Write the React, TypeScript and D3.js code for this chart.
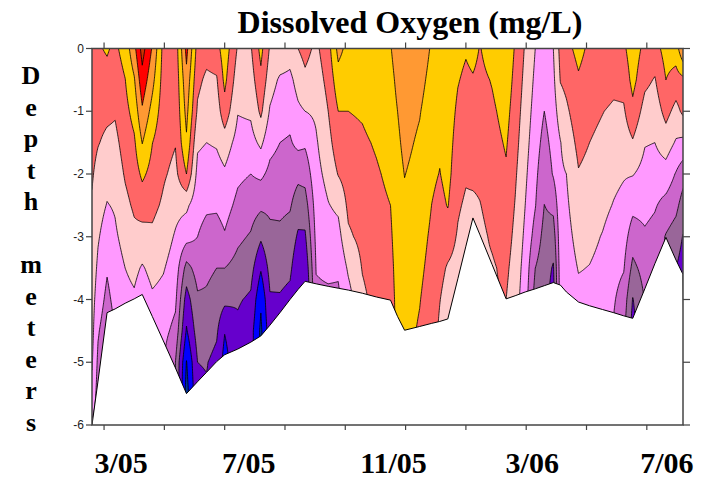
import React, { useEffect, useRef } from 'react';
import * as d3 from 'd3';

// sampling dates, days after the first profile
const sampleDays = [
  0, 6, 15, 23, 33, 42, 50, 60, 71, 83, 94, 105, 114, 124, 132, 145, 158, 168, 177, 187,
  197, 205, 212, 223, 235, 245, 255, 269, 283, 297, 304, 311, 326, 338, 346, 354, 364, 372, 379, 386,
  398, 412, 421, 431, 441, 450, 459, 466, 472, 484, 495, 508, 519, 529, 538, 550, 560, 571, 581, 588,
];

// lake bottom at each sample (m)
const bottomDepths = [
  6.0, 5.3, 4.21, 4.15, 4.06, 3.99, 3.92, 4.27, 4.66, 5.09, 5.5, 5.31, 5.16, 4.99, 4.88, 4.79, 4.68, 4.58, 4.41, 4.21,
  4.0, 3.84, 3.71, 3.75, 3.79, 3.82, 3.85, 3.9, 3.96, 4.01, 4.27, 4.49, 4.43, 4.38, 4.35, 4.31, 3.67, 3.15, 2.7, 2.97,
  3.44, 3.99, 3.94, 3.88, 3.83, 3.78, 3.73, 3.77, 3.88, 4.04, 4.1, 4.16, 4.21, 4.26, 4.3, 3.83, 3.43, 3.01, 3.37, 3.6,
];

// DO (mg/L) readings every 0.5 m from the surface down
const depthStep = 0.5;
const doProfiles: number[][] = [
  [7.8, 7.6, 7.5, 7.3, 7.1, 6.9, 6.8, 6.6, 6.4, 6.3, 6.1, 5.7, 4.8],
  [7.9, 7.6, 7.3, 7.05, 6.7, 6.4, 6.1, 5.8, 5.5, 5.1, 4.8, 4.6],
  [8.1, 7.7, 7.2, 6.8, 6.35, 5.95, 5.5, 5.1, 4.75, 4.4],
  [7.8, 7.45, 7.1, 6.75, 6.45, 6.1, 5.85, 5.55, 5.3, 5.0],
  [8.4, 7.98, 7.7, 7.4, 7.1, 6.75, 6.35, 6.0, 5.7],
  [9.7, 8.9, 8.35, 7.85, 7.5, 7.15, 6.75, 6.25, 5.85],
  [11.4, 10.65, 9.85, 9.03, 8.2, 7.4, 6.65, 5.9, 5.4],
  [9.9, 9.3, 8.65, 8.02, 7.65, 7.25, 6.8, 6.3, 5.85, 5.5],
  [7.7, 7.6, 7.5, 7.35, 7.12, 6.85, 6.45, 6.07, 5.7, 5.3, 5.0],
  [7.4, 7.3, 7.2, 7.05, 6.75, 6.3, 5.9, 5.55, 5.2, 4.7, 4.0],
  [10.3, 9.7, 9.3, 8.85, 8.0, 6.2, 5.35, 3.65, 2.55, 1.9, 0.95, 0.6],
  [7.6, 7.25, 6.85, 6.15, 5.7, 5.35, 5.0, 4.4, 3.85, 3.45, 3.0, 2.8],
  [7.4, 6.8, 6.4, 6.0, 5.55, 5.15, 4.65, 4.2, 3.85, 3.5, 3.05, 2.9],
  [7.6, 6.9, 6.5, 6.1, 5.6, 5.15, 4.55, 4.0, 3.6, 3.15, 2.7],
  [8.6, 8.25, 7.6, 6.5, 5.85, 5.4, 4.9, 4.0, 3.25, 2.05, 1.6],
  [6.9, 6.45, 6.05, 5.65, 5.2, 4.75, 4.2, 3.65, 3.1, 2.8],
  [6.9, 6.55, 6.15, 5.65, 5.0, 4.45, 3.9, 3.35, 2.85, 2.4],
  [8.3, 7.75, 7.2, 6.2, 5.2, 4.2, 3.15, 2.1, 1.15, 0.8],
  [6.9, 6.45, 5.9, 5.3, 4.75, 4.2, 3.75, 3.3, 2.9, 2.6],
  [6.8, 5.85, 5.4, 5.0, 4.6, 4.2, 3.8, 3.35, 2.9, 2.6],
  [6.5, 5.75, 5.3, 4.9, 4.5, 4.1, 3.6, 3.2, 2.7],
  [7.0, 6.4, 5.8, 5.25, 4.25, 3.5, 2.85, 2.25, 1.95],
  [7.3, 6.8, 6.0, 5.15, 4.35, 3.55, 2.85, 2.2, 1.8],
  [6.8, 6.5, 6.15, 5.9, 5.7, 5.45, 5.25, 5.05, 4.8],
  [7.6, 7.3, 7.0, 6.65, 6.3, 5.95, 5.55, 5.2, 4.8],
  [9.3, 8.6, 8.0, 7.6, 7.05, 6.2, 5.65, 5.15, 4.8],
  [8.7, 8.35, 8.0, 7.7, 7.45, 7.2, 6.85, 6.15, 5.6],
  [8.8, 8.5, 8.1, 7.85, 7.65, 7.45, 7.25, 7.05, 6.8],
  [8.9, 8.65, 8.4, 8.1, 7.9, 7.75, 7.6, 7.45, 7.3],
  [8.95, 8.75, 8.6, 8.4, 8.2, 8.0, 7.85, 7.7, 7.6],
  [9.4, 9.2, 9.0, 8.85, 8.7, 8.6, 8.5, 8.4, 8.3, 8.2],
  [9.7, 9.5, 9.35, 9.2, 9.02, 8.85, 8.7, 8.55, 8.4, 8.3],
  [9.5, 9.27, 9.05, 8.87, 8.72, 8.57, 8.36, 8.2, 8.04, 7.9],
  [8.9, 8.72, 8.54, 8.36, 8.18, 7.99, 7.83, 7.68, 7.52, 7.4],
  [8.8, 8.64, 8.48, 8.14, 7.97, 7.73, 7.5, 7.27, 7.03, 6.85],
  [8.7, 8.6, 8.5, 8.4, 8.3, 8.05, 7.45, 6.9, 6.6, 6.4],
  [8.3, 8.06, 7.82, 7.6, 7.37, 7.12, 6.9, 6.7, 6.6],
  [8.1, 7.81, 7.53, 7.34, 7.11, 6.86, 6.6, 6.5],
  [8.3, 7.92, 7.67, 7.42, 7.17, 6.85, 6.7],
  [7.95, 7.75, 7.56, 7.37, 7.18, 6.97, 6.8],
  [8.5, 8.06, 7.84, 7.66, 7.48, 7.3, 7.11, 6.9],
  [8.8, 8.57, 8.33, 8.1, 7.88, 7.66, 7.44, 7.2, 7.0],
  [7.9, 7.71, 7.52, 7.34, 7.14, 6.95, 6.76, 6.57, 6.4],
  [6.9, 6.72, 6.54, 6.36, 6.18, 6.0, 5.8, 5.6, 5.45],
  [6.0, 5.81, 5.62, 5.43, 5.24, 5.05, 4.6, 4.0, 3.6],
  [5.8, 5.4, 5.0, 4.67, 4.32, 3.99, 3.67, 3.45, 3.3],
  [6.0, 5.78, 5.55, 5.32, 5.09, 4.25, 3.5, 2.9, 2.6],
  [7.3, 7.05, 6.5, 5.96, 5.84, 5.72, 5.6, 5.48, 5.4],
  [7.7, 7.26, 6.83, 6.42, 6.0, 5.83, 5.65, 5.47, 5.3],
  [8.3, 7.88, 7.56, 7.25, 6.94, 6.64, 6.35, 6.05, 5.75],
  [7.8, 7.53, 7.27, 7.0, 6.75, 6.5, 6.23, 5.97, 5.75],
  [7.8, 7.5, 7.03, 6.75, 6.5, 6.24, 5.95, 5.75, 5.55],
  [7.8, 7.3, 6.83, 6.54, 6.24, 5.95, 5.59, 5.34, 5.1, 4.9],
  [7.8, 7.33, 6.88, 6.48, 6.08, 5.73, 5.4, 5.07, 4.55, 4.2],
  [8.6, 8.32, 7.72, 6.9, 6.05, 5.27, 4.5, 3.74, 2.95, 2.6],
  [7.7, 7.24, 6.62, 6.06, 5.67, 5.28, 4.86, 4.38, 4.05],
  [7.6, 6.93, 6.46, 6.0, 5.55, 5.09, 4.67, 4.3],
  [8.4, 8.0, 7.32, 6.49, 5.58, 4.67, 3.92],
  [8.5, 7.6, 6.69, 5.9, 4.93, 4.27, 3.5, 3.0],
  [9.9, 7.75, 7.2, 5.75, 4.4, 3.55, 2.95, 2.6],
];

const doLevels = [1, 2, 3, 4, 5, 6, 7, 8, 9, 10, 11];
const bandColors = [
  '#003399', '#0000ff', '#6600cc', '#996699', '#cc66cc', '#ff99ff',
  '#ffcccc', '#ff6666', '#ffcc00', '#ff9933', '#ff0000', '#cc3300',
];

const xTickDays = [12, 72, 132, 192, 252, 312, 372, 432, 492, 552];
const xLabelText = ['3/05', '7/05', '11/05', '3/06', '7/06'];
const xLabelDays = [29, 156, 300, 438, 572];
const depthTicks = [0, -1, -2, -3, -4, -5, -6];
const yTitleLetters = ['D', 'e', 'p', 't', 'h', '', 'm', 'e', 't', 'e', 'r', 's'];

const W = 706;
const H = 480;
const plot = { left: 92, top: 48.5, right: 683, bottom: 425 };
const serif = '"Liberation Serif", "Times New Roman", serif';
const sans = '"Liberation Sans", Arial, sans-serif';

// DO at a depth, linear between readings, last reading held below
const readAt = (p: number[], z: number) => {
  const pos = z / depthStep;
  const i0 = Math.floor(pos);
  if (i0 >= p.length - 1) return p[p.length - 1];
  const f = pos - i0;
  return p[i0] * (1 - f) + p[i0 + 1] * f;
};

const App = () => {
  const svgRef = useRef<SVGSVGElement>(null);

  useEffect(() => {
    const svg = d3.select(svgRef.current);
    svg.selectAll('*').remove();

    const lastDay = sampleDays[sampleDays.length - 1];
    const x = d3.scaleLinear().domain([0, lastDay]).range([plot.left, plot.right]);
    const y = d3.scaleLinear().domain([-6, 0]).range([plot.bottom, plot.top]);

    // raster of DO for the contour generator
    const nx = lastDay + 1;
    const ny = 241;
    const dz = 6 / (ny - 1);
    const grid = new Array(nx * ny);
    let k = 0;
    for (let i = 0; i < nx; i++) {
      while (k < sampleDays.length - 2 && sampleDays[k + 1] < i) k++;
      const t = (i - sampleDays[k]) / (sampleDays[k + 1] - sampleDays[k]);
      for (let j = 0; j < ny; j++) {
        const z = j * dz;
        grid[j * nx + i] = readAt(doProfiles[k], z) * (1 - t) + readAt(doProfiles[k + 1], z) * t;
      }
    }

    const bands = d3.contours().size([nx, ny]).thresholds(doLevels)(grid);
    const proj = d3.geoTransform({
      point: function (gx: number, gy: number) {
        this.stream.point(x(gx - 0.5), y(-(gy - 0.5) * dz));
      },
    });
    const path = d3.geoPath(proj);

    svg.append('defs').append('clipPath').attr('id', 'plotClip')
      .append('rect')
      .attr('x', plot.left).attr('y', plot.top)
      .attr('width', plot.right - plot.left).attr('height', plot.bottom - plot.top);

    const g = svg.append('g').attr('clip-path', 'url(#plotClip)');

    g.append('rect')
      .attr('x', plot.left).attr('y', plot.top)
      .attr('width', plot.right - plot.left).attr('height', plot.bottom - plot.top)
      .attr('fill', bandColors[0]);

    g.selectAll('path.band')
      .data(bands)
      .join('path')
      .attr('class', 'band')
      .attr('d', (d: any) => path(d))
      .attr('fill', (d: any) => bandColors[doLevels.indexOf(d.value) + 1])
      .attr('stroke', '#000')
      .attr('stroke-width', 0.8)
      .attr('stroke-linejoin', 'round');

    // sediment below the bottom
    const pts: [number, number][] = sampleDays.map((d, i) => [x(d), y(-bottomDepths[i])]);
    pts.push([x(lastDay) + 2, y(-6) + 2], [x(0) - 2, y(-6) + 2]);
    g.append('path')
      .attr('d', d3.line()(pts) + 'Z')
      .attr('fill', '#fff')
      .attr('stroke', '#000')
      .attr('stroke-width', 1);

    // frame and ticks
    const axisColor = '#444';
    svg.append('rect')
      .attr('x', plot.left).attr('y', plot.top)
      .attr('width', plot.right - plot.left).attr('height', plot.bottom - plot.top)
      .attr('fill', 'none').attr('stroke', axisColor).attr('stroke-width', 1.5);

    const ticks = svg.append('g').attr('stroke', axisColor).attr('stroke-width', 1.2);
    xTickDays.forEach((d) => {
      ticks.append('line').attr('x1', x(d)).attr('x2', x(d)).attr('y1', plot.top).attr('y2', plot.top - 6);
      ticks.append('line').attr('x1', x(d)).attr('x2', x(d)).attr('y1', plot.bottom).attr('y2', plot.bottom + 5);
    });
    depthTicks.forEach((v) => {
      ticks.append('line').attr('x1', plot.left).attr('x2', plot.left - 6).attr('y1', y(v)).attr('y2', y(v));
      ticks.append('line').attr('x1', plot.right).attr('x2', plot.right + 7).attr('y1', y(v)).attr('y2', y(v));
    });

    svg.append('g').selectAll('text')
      .data(depthTicks)
      .join('text')
      .attr('x', plot.left - 8)
      .attr('y', (v) => y(v))
      .attr('dy', '0.35em')
      .attr('text-anchor', 'end')
      .attr('font-family', sans)
      .attr('font-size', 12)
      .attr('fill', '#222')
      .text((v) => String(v));

    svg.append('g').selectAll('text')
      .data(xLabelText)
      .join('text')
      .attr('x', (_, i) => x(xLabelDays[i]))
      .attr('y', 473)
      .attr('text-anchor', 'middle')
      .attr('font-family', serif)
      .attr('font-weight', 'bold')
      .attr('font-size', 30)
      .text((t) => t);

    svg.append('text')
      .attr('x', 410)
      .attr('y', 33)
      .attr('text-anchor', 'middle')
      .attr('font-family', serif)
      .attr('font-weight', 'bold')
      .attr('font-size', 32)
      .text('Dissolved Oxygen (mg/L)');

    svg.append('g').selectAll('text')
      .data(yTitleLetters)
      .join('text')
      .attr('x', 31)
      .attr('y', (_, i) => 84 + i * 31.5)
      .attr('text-anchor', 'middle')
      .attr('font-family', serif)
      .attr('font-weight', 'bold')
      .attr('font-size', 26)
      .text((t) => t);
  }, []);

  return (
    <svg
      ref={svgRef}
      width={W}
      height={H}
      style={{ position: 'absolute', left: 0, top: 0, background: '#fff' }}
    />
  );
};

export default App;
